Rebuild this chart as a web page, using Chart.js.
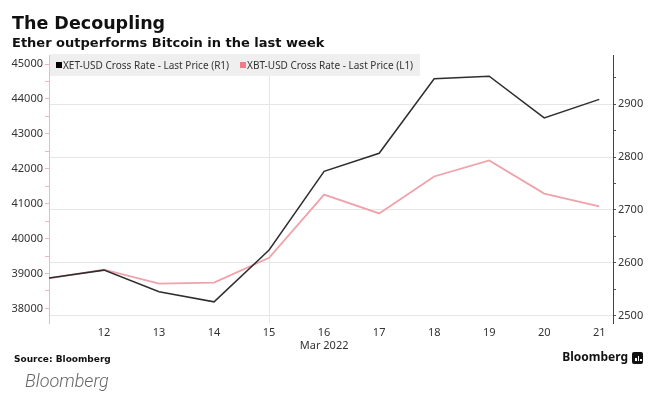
<!DOCTYPE html>
<html>
<head>
<meta charset="utf-8">
<script src="https://cdn.jsdelivr.net/npm/chart.js@4/dist/chart.umd.min.js"></script>
<style>
  html, body { margin: 0; padding: 0; background: #fff; }
  #wrap { position: relative; width: 649px; height: 396px; overflow: hidden; }
  #c { position: absolute; left: 0; top: 0; }
  .t { position: absolute; white-space: nowrap; }
  #title { left: 12px; top: 15px; font: bold 17.5px/17px "DejaVu Sans"; color: #111; }
  #subtitle { left: 12px; top: 36px; font: bold 13px/13px "DejaVu Sans"; color: #111; }
  #legend { position: absolute; left: 50px; top: 54px; height: 22px; padding: 0 7px 0 6px; background: #efefef;
            display: flex; align-items: center; font: 10px "Noto Sans"; color: #333; white-space: nowrap; }
  #legend .it { display: inline-flex; align-items: center; margin-right: 11px; }
  #legend .it:last-child { margin-right: 0; }
  #legend .sq { display: inline-block; width: 6px; height: 6px; margin-right: 1px; }
  #source { left: 14px; top: 355px; font: bold 9px/9px "DejaVu Sans"; color: #111; }
  #brand { right: 21px; top: 350px; font: bold 12px/14px "Noto Sans"; color: #111; }
  #icon { position: absolute; left: 632px; top: 352px; width: 11px; height: 12px; background: #111; border-radius: 2px; }
  #icon i { position: absolute; bottom: 3px; width: 1.5px; background: #fff; }
  #caption { left: 25px; top: 372px; font: italic 300 18px/18px Roboto; color: #666; }
</style>
</head>
<body>
<div id="wrap">
  <canvas id="c" width="649" height="396"></canvas>
  <div class="t" id="title">The Decoupling</div>
  <div class="t" id="subtitle">Ether outperforms Bitcoin in the last week</div>
  <div id="legend"></div>
  <div class="t" id="source">Source: Bloomberg</div>
  <div class="t" id="brand">Bloomberg</div>
  <div id="icon"><i style="left:3px;height:3px"></i><i style="left:5.5px;height:5px"></i><i style="left:8px;height:2px"></i></div>
  <div class="t" id="caption">Bloomberg</div>
</div>
<script>
// ---- Data ----
const days = [11, 12, 13, 14, 15, 16, 17, 18, 19, 20, 21];           // March 2022
const monthLabel = 'Mar 2022';
const seriesNames = ['XET-USD Cross Rate - Last Price (R1)', 'XBT-USD Cross Rate - Last Price (L1)'];
const ethUsd = [2571, 2586, 2545, 2526, 2624, 2773, 2807, 2948, 2953, 2874, 2909];          // right axis
const btcUsd = [38860, 39110, 38710, 38740, 39450, 41260, 40720, 41780, 42240, 41290, 40920]; // left axis
const leftTicks = [38000, 39000, 40000, 41000, 42000, 43000, 44000, 45000];
const rightTicks = [2500, 2600, 2700, 2800, 2900];
const xTicks = [12, 13, 14, 15, 16, 17, 18, 19, 20, 21];
const markerDay = 15;

const pinkLine = '#f0a2aa';
const pinkAxis = '#f2b6bd';
const gridCol = '#e6e6e6';

function withMinor(major, step) {
  const out = [];
  for (let i = 0; i < major.length; i++) {
    out.push({ value: major[i] });
    out.push({ value: major[i] + step });
  }
  return out;
}

const chart = new Chart(document.getElementById('c'), {
  type: 'line',
  data: {
    datasets: [
      {
        label: seriesNames[0],
        data: days.map((d, i) => ({ x: d, y: ethUsd[i] })),
        yAxisID: 'yR',
        borderColor: '#2e2e2e',
        backgroundColor: '#000000',
        borderWidth: 1.5,
        pointRadius: 0,
        tension: 0
      },
      {
        label: seriesNames[1],
        data: days.map((d, i) => ({ x: d, y: btcUsd[i] })),
        yAxisID: 'yL',
        borderColor: pinkLine,
        backgroundColor: '#f07b84',
        borderWidth: 1.8,
        pointRadius: 0,
        tension: 0
      }
    ]
  },
  options: {
    responsive: false,
    animation: false,
    devicePixelRatio: 1,
    layout: { padding: { top: 55, left: 0, right: 0, bottom: 0 } },
    plugins: { legend: { display: false }, tooltip: { enabled: false } },
    scales: {
      x: {
        type: 'linear',
        min: 11,
        max: 21.25,
        afterBuildTicks: (s) => { s.ticks = xTicks.map(v => ({ value: v })); },
        afterFit: (s) => { s.height = 73; },
        border: { display: false },
        grid: {
          drawTicks: false,
          color: (ctx) => (ctx.tick && ctx.tick.value === markerDay) ? gridCol : 'rgba(0,0,0,0)'
        },
        ticks: {
          padding: 3,
          maxRotation: 0,
          autoSkip: false,
          color: '#333',
          font: { family: 'Noto Sans', size: 11 },
          callback: (v) => v === 16 ? [String(v), monthLabel] : String(v)
        }
      },
      yL: {
        type: 'linear',
        position: 'left',
        min: 37583,
        max: 45259,
        afterBuildTicks: (s) => { s.ticks = withMinor(leftTicks, 500).filter(t => t.value >= s.min && t.value <= s.max); },
        afterFit: (s) => { s.width = 49; },
        border: { display: true, color: pinkAxis, width: 1 },
        grid: { drawOnChartArea: false, tickLength: 4, tickColor: pinkAxis },
        ticks: {
          padding: 2,
          color: '#333',
          font: { family: 'Noto Sans', size: 11 },
          callback: (v) => (v % 1000 === 0) ? String(v) : ''
        }
      },
      yR: {
        type: 'linear',
        position: 'right',
        min: 2486,
        max: 2993,
        afterBuildTicks: (s) => { s.ticks = withMinor(rightTicks, 50).filter(t => t.value >= s.min && t.value <= s.max); },
        afterFit: (s) => { s.width = 36; },
        border: { display: true, color: '#444', width: 1 },
        grid: {
          tickLength: 3,
          tickColor: '#555',
          color: (ctx) => (ctx.tick && ctx.tick.value % 100 === 0) ? gridCol : 'rgba(0,0,0,0)'
        },
        ticks: {
          padding: 2,
          color: '#333',
          font: { family: 'Noto Sans', size: 11 },
          callback: (v) => (v % 100 === 0) ? String(v) : ''
        }
      }
    }
  }
});

// HTML legend built from the chart's own legend items
const legendEl = document.getElementById('legend');
const items = Chart.defaults.plugins.legend.labels.generateLabels(chart);
items.forEach(it => {
  const s = document.createElement('span');
  s.className = 'it';
  const sq = document.createElement('span');
  sq.className = 'sq';
  sq.style.background = it.fillStyle;
  s.appendChild(sq);
  s.appendChild(document.createTextNode(it.text));
  legendEl.appendChild(s);
});
</script>
</body>
</html>
